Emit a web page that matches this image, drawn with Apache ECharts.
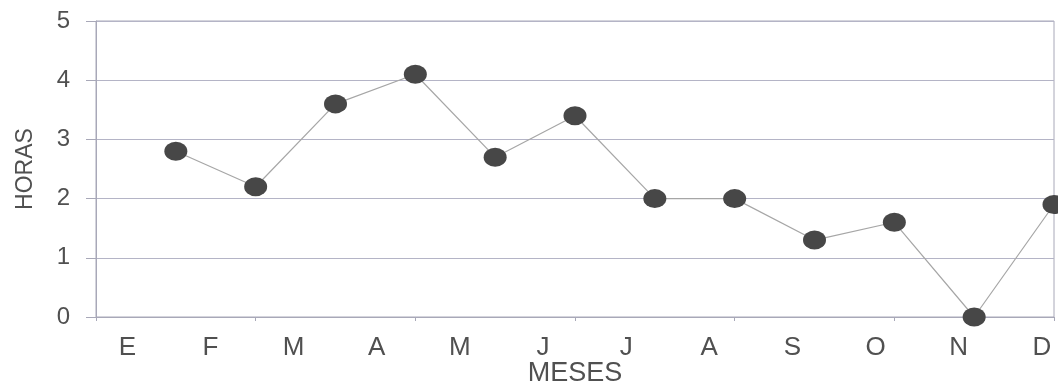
<!DOCTYPE html>
<html>
<head>
<meta charset="utf-8">
<script src="https://cdn.jsdelivr.net/npm/echarts@6/dist/echarts.min.js"></script>
<style>html,body{margin:0;padding:0;background:#fff;}#c{width:1058px;height:384px;}</style>
</head>
<body>
<div id="c"></div>
<script>
var months = ['E','F','M','A','M','J','J','A','S','O','N','D'];
var hours = [2.8, 2.2, 3.6, 4.1, 2.7, 3.4, 2.0, 2.0, 1.3, 1.6, 0, 1.9];
var yTicks = [0, 1, 2, 3, 4, 5];

var points = hours.map(function (v, i) { return [i + 1, v]; });
var labelIdx = months.map(function (m, i) { return i; });

var chart = echarts.init(document.getElementById('c'));
chart.setOption({
  animation: false,
  backgroundColor: '#ffffff',
  grid: { left: 96, right: 4, top: 21, bottom: 67, containLabel: false, outerBoundsMode: 'none',
          show: true, borderColor: '#a8a8b8', borderWidth: 1 },
  xAxis: [{
    type: 'value', min: 0, max: 12, interval: 2,
    axisLine: { show: true, lineStyle: { color: '#a8a8b8' } },
    axisTick: { show: true, length: 4, lineStyle: { color: '#a8a8b8' } },
    axisLabel: { show: false },
    splitLine: { show: false }
  }, {
    type: 'value', min: -0.378, max: 11.147, position: 'bottom',
    axisLine: { show: false }, axisTick: { show: false }, splitLine: { show: false },
    axisLabel: {
      customValues: labelIdx,
      formatter: function (v) { return months[Math.round(v)]; },
      fontFamily: 'Liberation Sans', fontSize: 26, color: '#505050', margin: 18
    },
    name: 'MESES', nameLocation: 'middle', nameGap: 43, nameMoveOverlap: false,
    nameTextStyle: { fontFamily: 'Liberation Sans', fontSize: 27, color: '#505050' }
  }],
  yAxis: {
    type: 'value', min: 0, max: 5, interval: 1,
    axisLine: { show: true, lineStyle: { color: '#a8a8b8' } },
    axisTick: { show: true, length: 10, lineStyle: { color: '#a8a8b8' } },
    axisLabel: { fontFamily: 'Liberation Sans', fontSize: 24, color: '#505050', margin: 26,
      formatter: function (v) { return yTicks.indexOf(v) >= 0 ? String(v) : ''; } },
    splitLine: { show: true, lineStyle: { color: '#b4b4c6', width: 1 } },
    name: 'HORAS', nameLocation: 'middle', nameGap: 59, nameRotate: 90, nameMoveOverlap: false,
    nameTextStyle: { fontFamily: 'Liberation Sans', fontSize: 23, color: '#505050' }
  },
  series: [{
    type: 'line', xAxisIndex: 0, data: points,
    symbol: 'circle', symbolSize: [23, 19],
    itemStyle: { color: '#474747' },
    lineStyle: { color: '#a6a6a6', width: 1.2 },
    clip: false
  }]
});
</script>
</body>
</html>
